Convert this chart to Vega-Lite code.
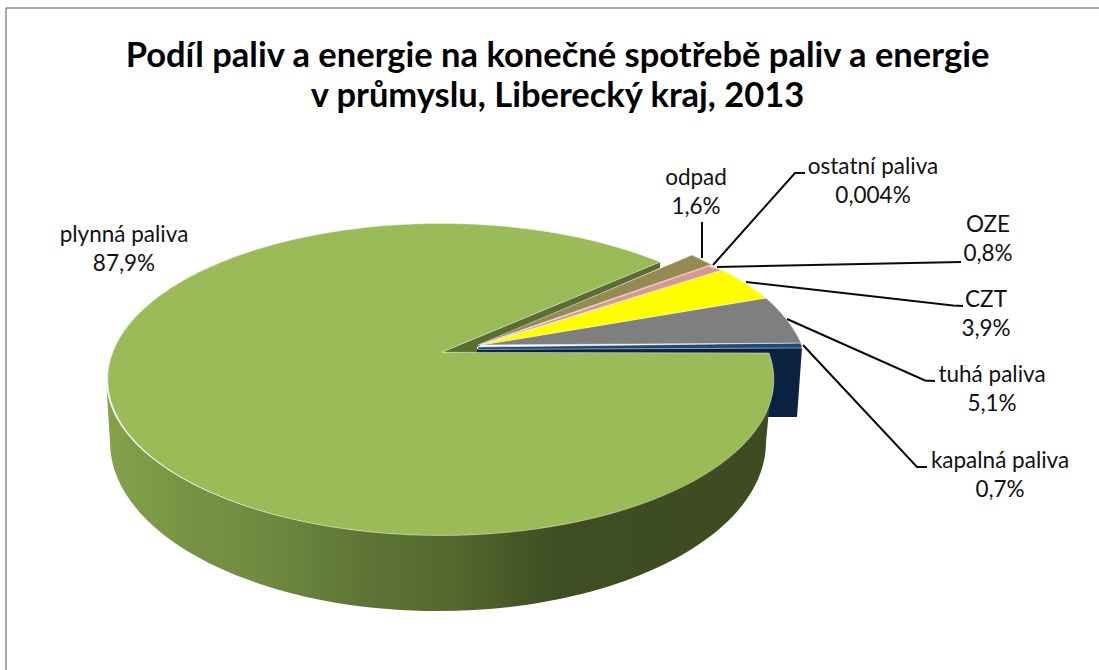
{
"$schema":"https://vega.github.io/schema/vega-lite/v6.json",
"width":1099,"height":670,"padding":0,"autosize":"none","background":"white",
"config":{"view":{"stroke":null}},
"title":{"text":["Podíl paliv a energie na konečné spotřebě paliv a energie","v průmyslu, Liberecký kraj, 2013"],"font":"Lato","fontWeight":"bold","fontSize":34.5,"lineHeight":40,"color":"#000000","anchor":"middle","dx":8,"dy":114,"offset":0},
"datasets":{
"slices":[
{"slice":"plynná paliva","value":87.9,"pct":"87,9%","lx":124,"ly":235},
{"slice":"kapalná paliva","value":0.7,"pct":"0,7%","lx":1000,"ly":461},
{"slice":"tuhá paliva","value":5.1,"pct":"5,1%","lx":992,"ly":375},
{"slice":"CZT","value":3.9,"pct":"3,9%","lx":986,"ly":300},
{"slice":"OZE","value":0.8,"pct":"0,8%","lx":988,"ly":225},
{"slice":"ostatní paliva","value":0.004,"pct":"0,004%","lx":873,"ly":167},
{"slice":"odpad","value":1.6,"pct":"1,6%","lx":696,"ly":178}
],
"leaders":[
{"slice":"odpad","o":1,"x":702,"y":222},{"slice":"odpad","o":2,"x":702,"y":258},
{"slice":"ostatní paliva","o":1,"x":713,"y":265},{"slice":"ostatní paliva","o":2,"x":795,"y":173},{"slice":"ostatní paliva","o":3,"x":805,"y":173},
{"slice":"OZE","o":1,"x":717,"y":267},{"slice":"OZE","o":2,"x":961,"y":262},
{"slice":"CZT","o":1,"x":746,"y":282},{"slice":"CZT","o":2,"x":953,"y":305.5},{"slice":"CZT","o":3,"x":963,"y":306},
{"slice":"tuhá paliva","o":1,"x":787,"y":319},{"slice":"tuhá paliva","o":2,"x":925,"y":380.5},{"slice":"tuhá paliva","o":3,"x":935,"y":381},
{"slice":"kapalná paliva","o":1,"x":803,"y":345},{"slice":"kapalná paliva","o":2,"x":917,"y":467},{"slice":"kapalná paliva","o":3,"x":927,"y":467}
],
"frame":[{"x":6,"y":8,"x2":1099,"y2":8},{"x":6,"y":8,"x2":6,"y2":670}]
},
"layer":[
{"data":{"name":"frame"},"mark":{"type":"rule","color":"#8c8c8c","strokeWidth":1.5},
 "encoding":{"x":{"field":"x","type":"quantitative","scale":{"domain":[0,1099]},"axis":null},"y":{"field":"y","type":"quantitative","scale":{"domain":[0,670],"reverse":true},"axis":null},"x2":{"field":"x2"},"y2":{"field":"y2"}}},
{"data":{"name":"slices"},"transform":[{"filter":"datum.slice==='kapalná paliva'"}],
 "mark":{"type":"point","filled":true,"opacity":1,"size":4,"shape":"M 477 349 L 802 348 L 797 417 L 768 417 L 768 354 L 477 353 Z","fill":"#0b2140"},
 "encoding":{"x":{"datum":0,"scale":{"domain":[0,1099]},"axis":null},"y":{"datum":0,"scale":{"domain":[0,670],"reverse":true},"axis":null}}},
{"data":{"name":"slices"},"transform":[{"filter":"datum.slice==='plynná paliva'"}],
 "mark":{"type":"point","filled":true,"opacity":1,"size":4,"shape":"M 106 379 A 333 156 0 0 0 772 379 L 766 442 A 328 169 0 0 1 110 442 Z",
  "fill":{"gradient":"linear","x1":0,"y1":0,"x2":1,"y2":0,"stops":[{"offset":0,"color":"#86a24c"},{"offset":0.11,"color":"#7a9445"},{"offset":0.24,"color":"#6f8a40"},{"offset":0.38,"color":"#5f7536"},{"offset":0.51,"color":"#55692f"},{"offset":0.68,"color":"#3f4d22"},{"offset":1,"color":"#3f4c22"}]}},
 "encoding":{"x":{"datum":0,"scale":{"domain":[0,1099]},"axis":null},"y":{"datum":0,"scale":{"domain":[0,670],"reverse":true},"axis":null}}},
{"data":{"name":"slices"},"transform":[{"filter":"datum.slice==='plynná paliva'"}],
 "mark":{"type":"point","filled":true,"opacity":1,"size":4,"shape":"M 441.7 352.3 L 660 262 L 660 268 L 477 347 L 477 353 Z","fill":"#5a6e33"},
 "encoding":{"x":{"datum":0,"scale":{"domain":[0,1099]},"axis":null},"y":{"datum":0,"scale":{"domain":[0,670],"reverse":true},"axis":null}}},
{"data":{"name":"slices"},
 "mark":{"type":"point","filled":true,"opacity":1,"size":4,"stroke":"#eef2e2","strokeWidth":0.5},
 "encoding":{"x":{"datum":0,"scale":{"domain":[0,1099]},"axis":null},"y":{"datum":0,"scale":{"domain":[0,670],"reverse":true},"axis":null},
  "shape":{"field":"slice","type":"nominal","legend":null,"scale":{"domain":["plynná paliva","kapalná paliva","tuhá paliva","CZT","OZE","ostatní paliva","odpad"],"range":[
   "M 441.7 352.3 L 660 262 A 333 156 0 1 0 769 353 Z",
   "M 478 347 L 801 343 L 802 348 L 478 349.5 Z",
   "M 480 345 L 766 298 A 340 165 0 0 1 801 343 Z",
   "M 482 345 L 722 270 A 340 165 0 0 1 766 298 Z",
   "M 480 345 L 708 266 L 722 270 Z",
   "M 480 345 L 711.5 264.5 L 712.5 265 Z",
   "M 478 345 L 692 255 L 711.5 264.5 Z"]}},
  "color":{"field":"slice","type":"nominal","legend":null,"scale":{"domain":["plynná paliva","kapalná paliva","tuhá paliva","CZT","OZE","ostatní paliva","odpad"],"range":["#9bbb59","#1f497d","#7f7f7f","#ffff00","#d99694","#c0504d","#948a54"]}}}},
{"data":{"name":"leaders"},"mark":{"type":"line","color":"#0a0a0a","strokeWidth":2},
 "encoding":{"x":{"field":"x","type":"quantitative","scale":{"domain":[0,1099]},"axis":null},"y":{"field":"y","type":"quantitative","scale":{"domain":[0,670],"reverse":true},"axis":null},"detail":{"field":"slice"},"order":{"field":"o"}}},
{"data":{"name":"slices"},"transform":[{"calculate":"datum.slice+'\\n'+datum.pct","as":"label"}],
 "mark":{"type":"text","font":"Lato","fontSize":22.5,"color":"#111111","align":"center","baseline":"middle","lineBreak":"\n","lineHeight":29},
 "encoding":{"x":{"field":"lx","type":"quantitative","scale":{"domain":[0,1099]},"axis":null},"y":{"field":"ly","type":"quantitative","scale":{"domain":[0,670],"reverse":true},"axis":null},"text":{"field":"label"}}}
]
}
